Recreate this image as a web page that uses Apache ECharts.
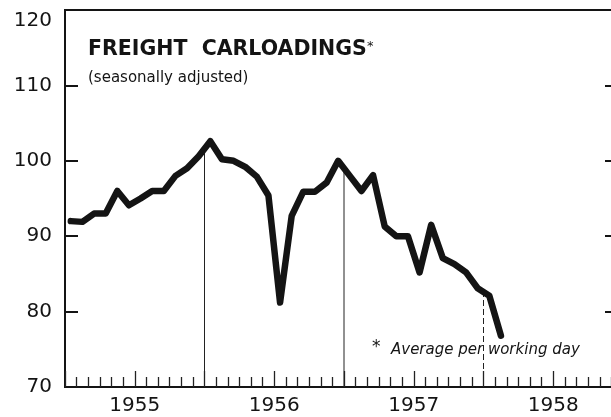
<!DOCTYPE html>
<html>
<head>
<meta charset="utf-8">
<script src="https://cdn.jsdelivr.net/npm/echarts@6/dist/echarts.min.js"></script>
<style>
  html, body { margin: 0; padding: 0; background: #fff; }
  #chart { width: 611px; height: 417px; }
</style>
</head>
<body>
<div id="chart"></div>
<script>
// Freight carloadings, seasonally adjusted (index), monthly from Jan 1955
const values1955 = [92.0, 91.9, 93.0, 93.0, 96.0, 94.1, 95.0, 96.0, 96.0, 98.0, 99.0, 100.6];
const values1956 = [102.6, 100.2, 100.0, 99.2, 97.9, 95.4, 81.2, 92.7, 95.9, 95.9, 97.1, 100.0];
const values1957 = [98.0, 96.0, 98.1, 91.3, 90.0, 90.0, 85.2, 91.5, 87.1, 86.3, 85.2, 83.1];
const values1958 = [82.1, 76.8];
const yearLabels = ['1955', '1956', '1957', '1958'];
const yearBoundaries = [12, 24, 36];   // months from Jan 1955
const yTicks = [70, 80, 90, 100, 110, 120];

const allValues = values1955.concat(values1956, values1957, values1958);
const lineData = allValues.map((v, i) => [i + 0.5, v]);   // plotted at mid-month

function valueAt(b) {
  // value of the plotted line at month boundary b (between points b-1 and b)
  return (allValues[b - 1] + allValues[b]) / 2;
}

const INK = '#141414';
const FONT = 'DejaVu Sans';

const dropSeries = yearBoundaries.map((b, k) => ({
  type: 'line',
  data: [[b, yTicks[0]], [b, valueAt(b)]],
  symbol: 'none',
  silent: true,
  z: 1,
  lineStyle: { color: '#222', width: 1, type: k === 2 ? [6, 3] : 'solid' }
}));

const chart = echarts.init(document.getElementById('chart'), null, { renderer: 'canvas' });
chart.setOption({
  animation: false,
  backgroundColor: '#fff',
  grid: {
    left: 65, top: 10, width: 558, height: 377,
    outerBoundsMode: 'none', containLabel: false,
    show: true, borderColor: INK, borderWidth: 2, backgroundColor: 'transparent'
  },
  xAxis: {
    type: 'value', min: 0, max: 48, interval: 6,
    axisLine: { lineStyle: { color: INK, width: 2 } },
    axisTick: { inside: true, length: 16, lineStyle: { color: '#222', width: 1.3 } },
    minorTick: { show: true, splitNumber: 6, length: 10, lineStyle: { color: '#222', width: 1.3 } },
    splitLine: { show: false },
    minorSplitLine: { show: false },
    axisLabel: {
      margin: 9, color: INK, fontFamily: FONT, fontSize: 20,
      formatter: v => (v % 12 === 6 ? yearLabels[(v - 6) / 12] : '')
    }
  },
  yAxis: [{
    type: 'value', min: 70, max: 120, interval: 10, position: 'left',
    axisLine: { show: true, lineStyle: { color: INK, width: 2 } },
    axisTick: { show: true, inside: true, length: 13, lineStyle: { color: INK, width: 2 } },
    splitLine: { show: false },
    axisLabel: {
      margin: 13, color: INK, fontFamily: FONT, fontSize: 20,
      formatter: v => (v === 120 ? '{top|' + v + '}' : String(v)),
      rich: { top: { padding: [21, 0, 0, 0], color: INK, fontFamily: FONT, fontSize: 20 } }
    }
  }, {
    type: 'value', min: 70, max: 120, interval: 10, position: 'right',
    axisLine: { show: true, lineStyle: { color: INK, width: 2 } },
    axisTick: { show: true, inside: true, length: 18, lineStyle: { color: INK, width: 2 } },
    splitLine: { show: false },
    axisLabel: { show: false }
  }],
  graphic: [
    { type: 'text', left: 88, top: 39, style: { text: 'FREIGHT  CARLOADINGS', fill: INK, font: 'bold 20.5px "DejaVu Sans"' } },
    { type: 'text', left: 367, top: 40, style: { text: '*', fill: INK, font: '13px "DejaVu Sans"' } },
    { type: 'text', left: 88, top: 71, style: { text: '(seasonally adjusted)', fill: INK, font: '15px "DejaVu Sans"' } },
    { type: 'text', left: 372, top: 339, style: { text: '*', fill: INK, font: '17px "DejaVu Sans"' } },
    { type: 'text', left: 391, top: 343, style: { text: 'Average per working day', fill: INK, font: 'italic 15px "DejaVu Sans"' } }
  ],
  series: [{
    type: 'line',
    data: lineData,
    symbol: 'none',
    z: 3,
    lineStyle: { color: INK, width: 6.5, cap: 'round', join: 'round' }
  }].concat(dropSeries)
});
</script>
</body>
</html>
